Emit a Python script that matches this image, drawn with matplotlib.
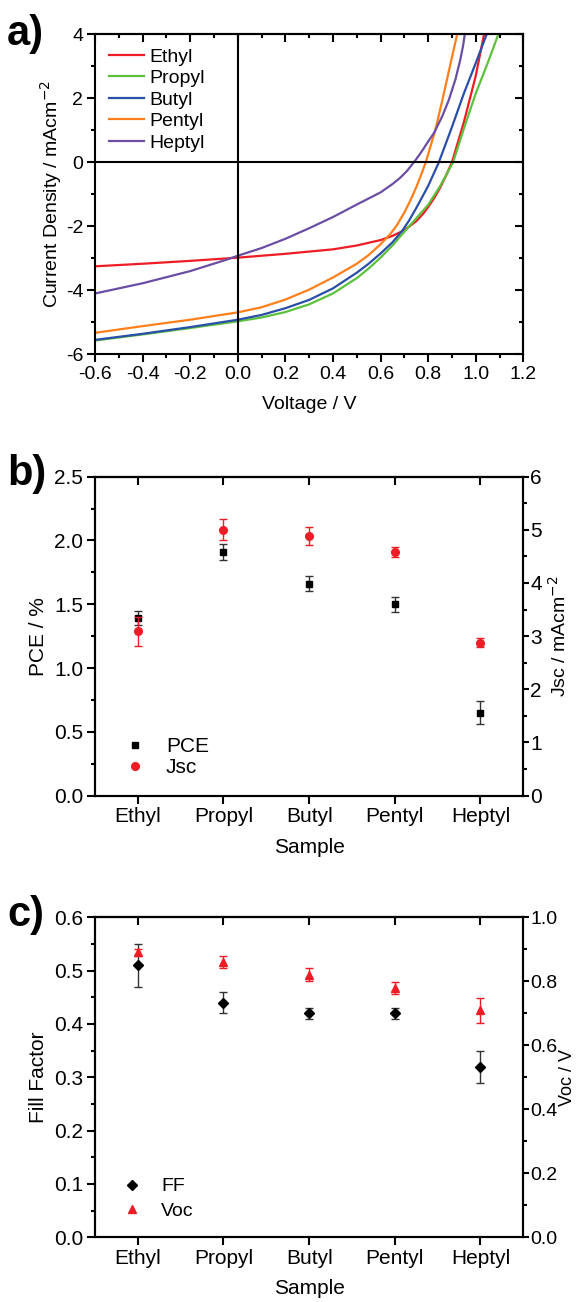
import matplotlib
matplotlib.use('Agg')
import matplotlib.pyplot as plt
from matplotlib.ticker import MultipleLocator, FormatStrFormatter
from matplotlib.lines import Line2D

plt.rcParams['font.family'] = ['Liberation Sans', 'DejaVu Sans']
plt.rcParams['axes.linewidth'] = 1.5
plt.rcParams['axes.unicode_minus'] = False

# ---- panel a: J-V curves ----
v_ethyl = [-0.6, -0.4, -0.2, 0.0, 0.2, 0.4, 0.5, 0.6, 0.65, 0.7, 0.75, 0.78, 0.8, 0.825, 0.85, 0.875, 0.9, 0.95, 1.0, 1.035]
j_ethyl = [-3.25, -3.17, -3.08, -2.98, -2.86, -2.72, -2.6, -2.43, -2.3, -2.12, -1.84, -1.6, -1.4, -1.12, -0.8, -0.42, 0.0, 1.25, 2.7, 4.0]

v_propyl = [-0.6, -0.4, -0.2, 0.0, 0.1, 0.2, 0.3, 0.4, 0.5, 0.55, 0.6, 0.65, 0.7, 0.75, 0.8, 0.85, 0.905, 0.95, 1.0, 1.05, 1.095]
j_propyl = [-5.57, -5.38, -5.18, -4.97, -4.85, -4.68, -4.44, -4.1, -3.62, -3.32, -2.98, -2.6, -2.17, -1.75, -1.33, -0.75, 0.0, 1.05, 2.15, 3.1, 4.0]

v_butyl = [-0.6, -0.4, -0.2, 0.0, 0.1, 0.2, 0.3, 0.4, 0.5, 0.55, 0.6, 0.65, 0.69, 0.72, 0.75, 0.8, 0.845, 0.9, 0.95, 1.0, 1.046]
j_butyl = [-5.55, -5.36, -5.15, -4.92, -4.77, -4.56, -4.3, -3.94, -3.45, -3.17, -2.85, -2.5, -2.15, -1.82, -1.43, -0.74, 0.0, 1.1, 2.15, 3.1, 4.0]

v_pentyl = [-0.6, -0.4, -0.2, 0.0, 0.1, 0.2, 0.3, 0.4, 0.5, 0.55, 0.6, 0.64, 0.67, 0.7, 0.726, 0.75, 0.77, 0.79, 0.83, 0.86, 0.89, 0.922]
j_pentyl = [-5.33, -5.12, -4.92, -4.69, -4.53, -4.29, -3.98, -3.6, -3.17, -2.9, -2.56, -2.25, -1.95, -1.57, -1.18, -0.78, -0.4, 0.0, 1.0, 1.95, 2.95, 4.0]

v_heptyl = [-0.6, -0.4, -0.2, -0.05, 0.0, 0.1, 0.2, 0.3, 0.4, 0.5, 0.6, 0.65, 0.68, 0.71, 0.74, 0.76, 0.78, 0.8, 0.824, 0.86, 0.887, 0.915, 0.935, 0.947, 0.955]
j_heptyl = [-4.1, -3.78, -3.4, -3.05, -2.92, -2.68, -2.39, -2.06, -1.71, -1.32, -0.94, -0.68, -0.5, -0.28, 0.0, 0.2, 0.42, 0.65, 0.91, 1.45, 1.95, 2.6, 3.2, 3.65, 4.05]

jv_names = ['Ethyl', 'Propyl', 'Butyl', 'Pentyl', 'Heptyl']
jv_colors = ['#ee1c25', '#5cc13c', '#2a4fa8', '#ff7f1a', '#6a4ea4']

# ---- panels b and c: device parameters ----
samples = ['Ethyl', 'Propyl', 'Butyl', 'Pentyl', 'Heptyl']
pce = [1.39, 1.91, 1.66, 1.50, 0.65]
pce_err = [0.055, 0.063, 0.06, 0.06, 0.09]
jsc = [3.09, 5.00, 4.89, 4.59, 2.88]
jsc_err = [0.27, 0.20, 0.17, 0.095, 0.09]
ff = [0.51, 0.44, 0.42, 0.42, 0.32]
ff_err = [0.04, 0.02, 0.01, 0.01, 0.03]
voc = [0.89, 0.86, 0.82, 0.78, 0.71]
voc_err = [0.011, 0.02, 0.02, 0.019, 0.039]

RED = '#ee1c25'

fig = plt.figure(figsize=(5.79, 13.02), dpi=100)


def style_ticks(ax, fs, pad=3, length=5.5):
    # outward ticks on the labelled sides
    ax.tick_params(which='major', direction='out', length=length, width=1.5, labelsize=fs, pad=pad)
    ax.tick_params(which='minor', direction='out', length=3, width=1.5)


def mirror_ticks(ax, side):
    # inward ticks on the mirrored sides
    sec = ax.secondary_xaxis(side) if side == 'top' else ax.secondary_yaxis(side)
    sec.tick_params(which='major', direction='in', length=5.5, width=1.5, labelsize=0)
    sec.tick_params(which='minor', direction='in', length=3, width=1.5)
    return sec


# panel a
ax = fig.add_axes([0.1641, 0.7279, 0.7397, 0.2457])
curves = [(v_ethyl, j_ethyl), (v_propyl, j_propyl), (v_butyl, j_butyl),
          (v_pentyl, j_pentyl), (v_heptyl, j_heptyl)]
for (v, j), name, c in zip(curves, jv_names, jv_colors):
    ax.plot(v, j, color=c, lw=1.6, label=name)
ax.axhline(0, color='black', lw=1.5)
ax.axvline(0, color='black', lw=1.5)
ax.set_xlim(-0.6, 1.2)
ax.set_ylim(-6, 4)
ax.xaxis.set_major_locator(MultipleLocator(0.2))
ax.xaxis.set_minor_locator(MultipleLocator(0.1))
ax.yaxis.set_major_locator(MultipleLocator(2))
ax.yaxis.set_minor_locator(MultipleLocator(1))
ax.xaxis.set_major_formatter(FormatStrFormatter('%.1f'))
style_ticks(ax, 14)
sec = mirror_ticks(ax, 'top')
sec.set_ticks(ax.xaxis.get_majorticklocs(), labels=[])
sec.xaxis.set_minor_locator(MultipleLocator(0.1))
sec = mirror_ticks(ax, 'right')
sec.set_ticks(ax.yaxis.get_majorticklocs(), labels=[])
sec.yaxis.set_minor_locator(MultipleLocator(1))
ax.set_xlabel('Voltage / V', fontsize=14, labelpad=9)
ax.set_ylabel('Current Density / mAcm$^{-2}$', fontsize=14, labelpad=1)
ax.legend(loc='upper left', frameon=False, fontsize=14, handlelength=1.8,
          handletextpad=0.3, labelspacing=0.2, borderaxespad=0.4, borderpad=0.3)
fig.text(0.012, 0.974, 'a)', fontsize=30, fontweight='bold', va='center')

x = list(range(1, len(samples) + 1))

# panel b
ax = fig.add_axes([0.1641, 0.3889, 0.7397, 0.2450])
ax2 = ax.twinx()
ax.errorbar(x, pce, yerr=pce_err, fmt='s', color='black', ms=4.5, ecolor='#333333',
            elinewidth=1, capsize=3, capthick=1)
ax2.errorbar(x, jsc, yerr=jsc_err, fmt='o', color=RED, ms=5.5, ecolor=RED,
             elinewidth=1, capsize=3, capthick=1)
ax.set_xlim(0.5, 5.5)
ax.set_ylim(0, 2.5)
ax2.set_ylim(0, 6)
ax.set_xticks(x)
ax.set_xticklabels(samples)
ax.yaxis.set_major_locator(MultipleLocator(0.5))
ax.yaxis.set_minor_locator(MultipleLocator(0.25))
ax.yaxis.set_major_formatter(FormatStrFormatter('%.1f'))
ax2.yaxis.set_major_locator(MultipleLocator(1))
ax2.yaxis.set_minor_locator(MultipleLocator(0.5))
style_ticks(ax, 15)
style_ticks(ax2, 15, pad=1, length=4)
sec = mirror_ticks(ax, 'top')
sec.set_ticks(x, labels=[])
ax.set_xlabel('Sample', fontsize=15, labelpad=8)
ax.set_ylabel('PCE / %', fontsize=15, labelpad=4)
ax2.set_ylabel('Jsc / mAcm$^{-2}$', fontsize=14)
ax2.yaxis.set_label_coords(1.058, 0.5)
handles = [Line2D([], [], ls='none', marker='s', color='black', ms=4.5),
           Line2D([], [], ls='none', marker='o', color=RED, ms=5.5)]
ax2.legend(handles, ['PCE', 'Jsc'], loc='lower left', frameon=False, fontsize=15,
           handletextpad=0.5, borderaxespad=0.5, labelspacing=0.1, borderpad=0.4)
fig.text(0.012, 0.636, 'b)', fontsize=30, fontweight='bold', va='center')

# panel c
ax = fig.add_axes([0.1641, 0.0497, 0.7397, 0.2458])
ax2 = ax.twinx()
ax.errorbar(x, ff, yerr=ff_err, fmt='D', color='black', ms=5, ecolor='#333333',
            elinewidth=1, capsize=3, capthick=1)
ax2.errorbar(x, voc, yerr=voc_err, fmt='^', color=RED, ms=6, ecolor=RED,
             elinewidth=1, capsize=3, capthick=1)
ax.set_xlim(0.5, 5.5)
ax.set_ylim(0, 0.6)
ax2.set_ylim(0, 1.0)
ax.set_xticks(x)
ax.set_xticklabels(samples)
ax.yaxis.set_major_locator(MultipleLocator(0.1))
ax.yaxis.set_minor_locator(MultipleLocator(0.05))
ax.yaxis.set_major_formatter(FormatStrFormatter('%.1f'))
ax2.yaxis.set_major_locator(MultipleLocator(0.2))
ax2.yaxis.set_minor_locator(MultipleLocator(0.1))
ax2.yaxis.set_major_formatter(FormatStrFormatter('%.1f'))
style_ticks(ax, 15)
style_ticks(ax2, 14, pad=1, length=4)
sec = mirror_ticks(ax, 'top')
sec.set_ticks(x, labels=[])
ax.set_xlabel('Sample', fontsize=15, labelpad=8)
ax.set_ylabel('Fill Factor', fontsize=15, labelpad=4)
ax2.set_ylabel('Voc / V', fontsize=13)
ax2.yaxis.set_label_coords(1.084, 0.5)
handles = [Line2D([], [], ls='none', marker='D', color='black', ms=5),
           Line2D([], [], ls='none', marker='^', color=RED, ms=6)]
ax2.legend(handles, ['FF', 'Voc'], loc='lower left', frameon=False, fontsize=14,
           handletextpad=0.5, borderaxespad=0.5, labelspacing=0.35, borderpad=0.4)
fig.text(0.012, 0.297, 'c)', fontsize=30, fontweight='bold', va='center')

fig.savefig('out.png', dpi=100)
